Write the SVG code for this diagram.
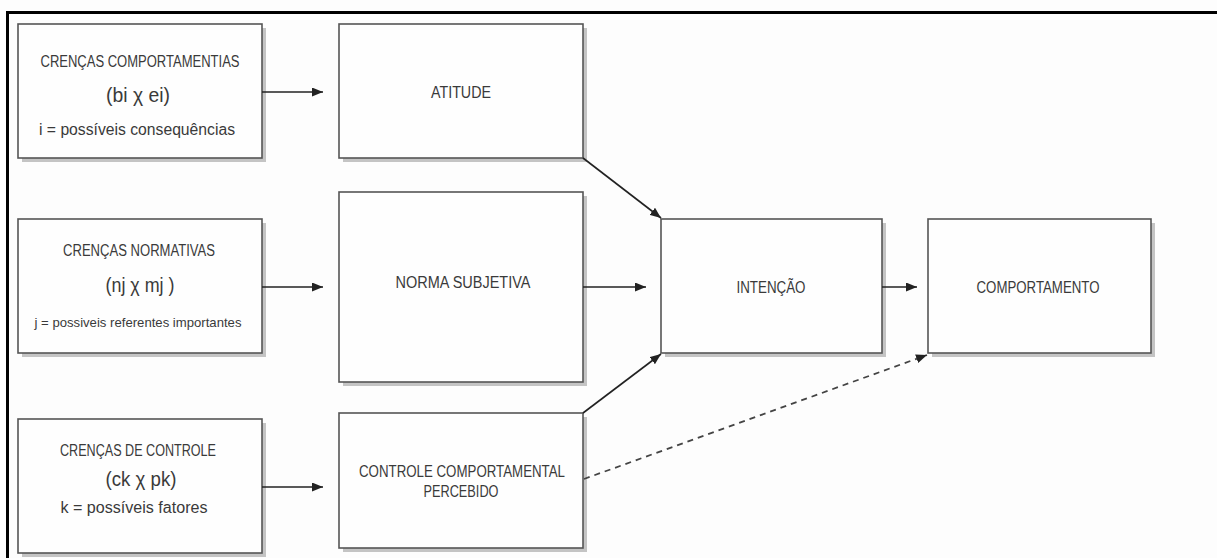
<svg xmlns="http://www.w3.org/2000/svg" width="1217" height="558" viewBox="0 0 1217 558">
<defs>
<marker id="ah" markerUnits="userSpaceOnUse" markerWidth="11" markerHeight="9" refX="11" refY="4.5" orient="auto">
<path d="M0,0 L11,4.5 L0,9 z" fill="#222"/>
</marker>
</defs>
<style>
.bg{fill:#fdfdfd}
.frame{fill:none;stroke:#000;stroke-width:3}
.shadow{fill:#c4c4c4}
.box{fill:#fefefe;stroke:#555;stroke-width:1.6}
text{font-family:"Liberation Sans Narrow","Liberation Sans",Arial,sans-serif;fill:#3a3a3a;text-anchor:middle}
.t{font-size:16px}
.big{font-size:20px}
.sm{font-size:13.5px}
.c{fill:none;stroke:#222;stroke-width:1.6;marker-end:url(#ah)}
.d{fill:none;stroke:#444;stroke-width:1.8;stroke-dasharray:6 5;marker-end:url(#ah)}
</style>
<rect class="bg" x="0" y="0" width="1217" height="558"/>
<rect class="frame" x="7.5" y="12.5" width="1215" height="560"/>

<g id="crencas-comportamentais">
<rect class="shadow" x="22" y="28" width="244" height="134"/>
<rect class="box" x="18" y="24" width="244" height="134"/>
<text class="t" x="140" y="67" textLength="199" lengthAdjust="spacingAndGlyphs">CRENÇAS COMPORTAMENTIAS</text>
<text class="big" x="138" y="102" textLength="64" lengthAdjust="spacingAndGlyphs">(bi χ ei)</text>
<text class="t" x="137" y="135" textLength="196" lengthAdjust="spacingAndGlyphs">i = possíveis consequências</text>
</g>

<g id="crencas-normativas">
<rect class="shadow" x="22" y="223" width="244" height="134"/>
<rect class="box" x="18" y="219" width="244" height="134"/>
<text class="t" x="139" y="256" textLength="152" lengthAdjust="spacingAndGlyphs">CRENÇAS NORMATIVAS</text>
<text class="big" x="140" y="292" textLength="69" lengthAdjust="spacingAndGlyphs">(nj χ mj )</text>
<text class="sm" x="138" y="327" textLength="207" lengthAdjust="spacingAndGlyphs">j = possiveis referentes importantes</text>
</g>

<g id="crencas-controle">
<rect class="shadow" x="22" y="423" width="244" height="134"/>
<rect class="box" x="18" y="419" width="244" height="134"/>
<text class="t" x="138" y="456" textLength="156" lengthAdjust="spacingAndGlyphs">CRENÇAS DE CONTROLE</text>
<text class="big" x="141" y="486" textLength="71" lengthAdjust="spacingAndGlyphs">(ck χ pk)</text>
<text class="t" x="134" y="513" textLength="147" lengthAdjust="spacingAndGlyphs">k = possíveis fatores</text>
</g>

<g id="atitude">
<rect class="shadow" x="343" y="28" width="244" height="134"/>
<rect class="box" x="339" y="24" width="244" height="134"/>
<text class="t" x="461" y="98" textLength="60" lengthAdjust="spacingAndGlyphs">ATITUDE</text>
</g>

<g id="norma-subjetiva">
<rect class="shadow" x="343" y="196" width="244" height="190"/>
<rect class="box" x="339" y="192" width="244" height="190"/>
<text class="t" x="463" y="288" textLength="135" lengthAdjust="spacingAndGlyphs">NORMA SUBJETIVA</text>
</g>

<g id="controle-comportamental">
<rect class="shadow" x="343" y="417" width="244" height="135"/>
<rect class="box" x="339" y="413" width="244" height="135"/>
<text class="t" x="462" y="477" textLength="206" lengthAdjust="spacingAndGlyphs">CONTROLE COMPORTAMENTAL</text>
<text class="t" x="461" y="497" textLength="75" lengthAdjust="spacingAndGlyphs">PERCEBIDO</text>
</g>

<g id="intencao">
<rect class="shadow" x="665" y="223" width="221" height="134"/>
<rect class="box" x="661" y="219" width="221" height="134"/>
<text class="t" x="771" y="293" textLength="69" lengthAdjust="spacingAndGlyphs">INTENÇÃO</text>
</g>

<g id="comportamento">
<rect class="shadow" x="932" y="223" width="223" height="134"/>
<rect class="box" x="928" y="219" width="223" height="134"/>
<text class="t" x="1038" y="293" textLength="123" lengthAdjust="spacingAndGlyphs">COMPORTAMENTO</text>
</g>

<g id="connectors">
<path class="c" d="M262,92 H323"/>
<path class="c" d="M262,287 H323"/>
<path class="c" d="M262,487 H323"/>
<path class="c" d="M583,158 L661,218"/>
<path class="c" d="M583,287 H646"/>
<path class="c" d="M583,413 L661,354"/>
<path class="c" d="M882,287 H917"/>
<path class="d" d="M584,479 L927,355"/>
</g>
</svg>
